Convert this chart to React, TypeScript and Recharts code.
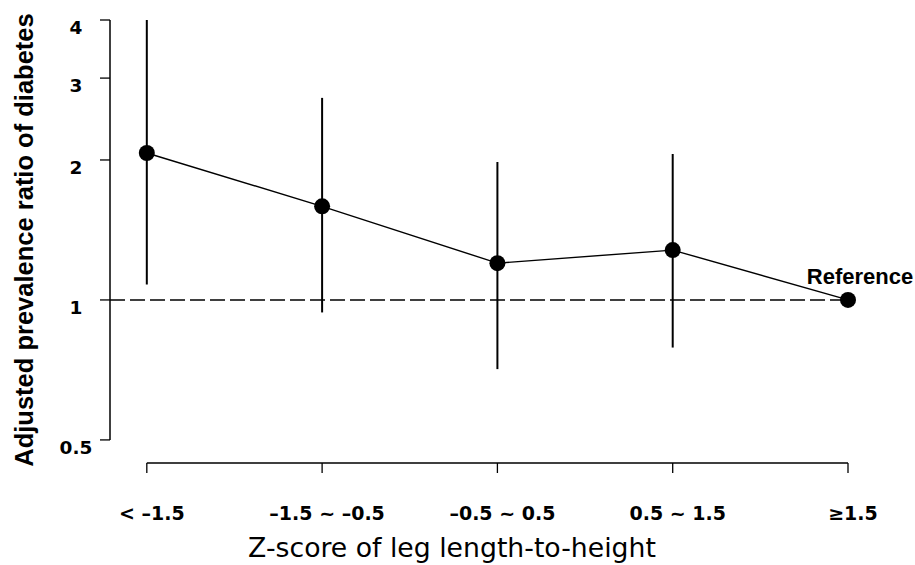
import React from 'react';
import { ComposedChart, Line, XAxis, YAxis, ErrorBar, ReferenceLine, LabelList } from 'recharts';

const categories = ['< –1.5', '–1.5 ~ –0.5', '–0.5 ~ 0.5', '0.5 ~ 1.5', '≥1.5'];
const ratios = [2.07, 1.59, 1.2, 1.28, 1.0];
const lowerCI = [1.08, 0.94, 0.71, 0.79, 1.0];
const upperCI = [4.0, 2.72, 1.98, 2.06, 1.0];
const notes = ['', '', '', '', 'Reference'];
const yTicks = [0.5, 1, 2, 3, 4];
const yTitle = 'Adjusted prevalence ratio of diabetes';
const xTitle = 'Z-score of leg length-to-height';

const data = categories.map((c, i) => ({
  pos: i,
  label: c,
  value: ratios[i],
  err: [ratios[i] - lowerCI[i], upperCI[i] - ratios[i]],
  note: notes[i],
}));
const xTicks = categories.map((_, i) => i);

const renderXTick = (props: any) => {
  const { x, y, payload } = props;
  return (
    <text
      x={x + 5}
      y={y + 47}
      textAnchor="middle"
      fontFamily="DejaVu Sans"
      fontWeight="bold"
      fontSize={19}
      fill="#000"
    >
      {categories[payload.value]}
    </text>
  );
};

const renderYTick = (props: any) => {
  const { x, y, payload } = props;
  return (
    <text
      x={x - 24}
      y={y + 14}
      textAnchor="middle"
      fontFamily="DejaVu Sans"
      fontWeight="bold"
      fontSize={18.5}
      fill="#000"
    >
      {payload.value}
    </text>
  );
};

const renderXTitle = () => (
  <text x={452} y={557} textAnchor="middle" fontFamily="DejaVu Sans" fontSize={26.7} fill="#000">
    {xTitle}
  </text>
);

const renderYTitle = () => (
  <text
    x={0}
    y={0}
    transform="translate(33, 240) rotate(-90)"
    textAnchor="middle"
    fontFamily="Liberation Sans"
    fontWeight="bold"
    fontSize={25.5}
    fill="#000"
  >
    {yTitle}
  </text>
);

const renderNote = (props: any) => {
  const vb = props.viewBox || {};
  const px = props.x ?? vb.x;
  const py = props.y ?? vb.y;
  if (!props.value) return null;
  return (
    <text
      x={px + 12}
      y={py - 16}
      textAnchor="middle"
      fontFamily="Liberation Sans"
      fontWeight="bold"
      fontSize={22}
      fill="#000"
    >
      {props.value}
    </text>
  );
};

export default function App() {
  return (
    <div style={{ position: 'absolute', left: 0, top: 0, width: 915, height: 565, background: '#fff' }}>
      <ComposedChart width={915} height={565} data={data} margin={{ top: 20, right: 67, bottom: 0, left: 0 }}>
        <XAxis
          type="number"
          dataKey="pos"
          domain={[-0.21, 4]}
          ticks={xTicks}
          interval={0}
          height={102}
          tickSize={10}
          tickMargin={0}
          tickLine={{ stroke: '#000', strokeWidth: 1.3 }}
          axisLine={{ stroke: '#000', strokeWidth: 1.3, strokeDasharray: '0 36.8 1000' }}
          tick={renderXTick}
          label={renderXTitle}
        />
        <YAxis
          type="number"
          scale="log"
          domain={[0.446, 4]}
          ticks={yTicks}
          interval={0}
          width={110}
          tickSize={10}
          tickMargin={0}
          tickLine={{ stroke: '#000', strokeWidth: 1.3 }}
          axisLine={{ stroke: '#000', strokeWidth: 1.5, strokeDasharray: '420 1000' }}
          tick={renderYTick}
          label={renderYTitle}
        />
        <ReferenceLine y={1} stroke="#000" strokeWidth={1.5} strokeDasharray="15 5" />
        <Line
          dataKey="value"
          stroke="#000"
          strokeWidth={1.4}
          dot={{ r: 8, fill: '#000', stroke: '#000', strokeWidth: 0 }}
          activeDot={false}
          isAnimationActive={false}
        >
          <ErrorBar dataKey="err" width={0} stroke="#000" strokeWidth={2} direction="y" isAnimationActive={false} />
          <LabelList dataKey="note" content={renderNote} />
        </Line>
      </ComposedChart>
    </div>
  );
}
